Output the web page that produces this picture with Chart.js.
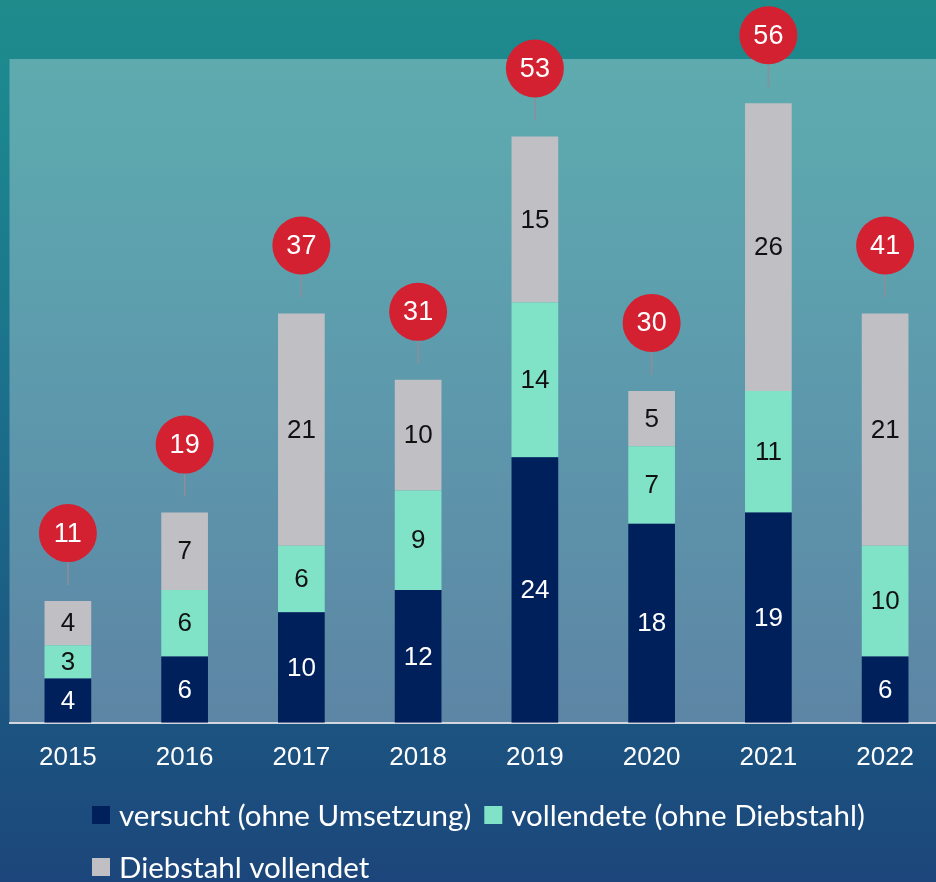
<!DOCTYPE html>
<html>
<head>
<meta charset="utf-8">
<script src="https://cdn.jsdelivr.net/npm/chart.js@4/dist/chart.umd.min.js"></script>
<style>
  html, body { margin: 0; padding: 0; background: #1c4a7c; }
  .chart-container { width: 936px; height: 882px; overflow: hidden; position: relative; }
  canvas { display: block; }
</style>
</head>
<body>
<div class="chart-container">
  <canvas id="chart" width="944" height="882"></canvas>
</div>
<script>
const years = ['2015', '2016', '2017', '2018', '2019', '2020', '2021', '2022'];
const versucht = [4, 6, 10, 12, 24, 18, 19, 6];
const vollendete = [3, 6, 6, 9, 14, 7, 11, 10];
const diebstahl = [4, 7, 21, 10, 15, 5, 26, 21];
const totals = [11, 19, 37, 31, 53, 30, 56, 41];

const seriesLabels = ['versucht (ohne Umsetzung)', 'vollendete (ohne Diebstahl)', 'Diebstahl vollendet'];
const seriesColors = ['#00205c', '#80e3c8', '#bfbfc4'];

// background gradient + lighter plot panel
const backgroundPlugin = {
  id: 'background',
  beforeDraw(chart) {
    const { ctx, width, height, chartArea } = chart;
    ctx.save();
    const g = ctx.createLinearGradient(0, 0, 0, height);
    g.addColorStop(0, '#1f8b8b');
    g.addColorStop(0.12, '#1c878f');
    g.addColorStop(0.5, '#1b6c8a');
    g.addColorStop(1, '#1c467b');
    ctx.fillStyle = g;
    ctx.fillRect(0, 0, width, height);
    ctx.fillStyle = 'rgba(255,255,255,0.29)';
    ctx.fillRect(chartArea.left, chartArea.top, width - chartArea.left, chartArea.bottom - chartArea.top);
    ctx.restore();
  }
};

// numbers inside segments, red total bubbles, legend
const labelsPlugin = {
  id: 'segmentLabels',
  afterDatasetsDraw(chart) {
    const { ctx } = chart;
    ctx.save();
    ctx.textAlign = 'center';
    ctx.textBaseline = 'middle';
    ctx.font = '26px "Liberation Sans", Arial, sans-serif';
    chart.data.datasets.forEach((ds, di) => {
      const meta = chart.getDatasetMeta(di);
      meta.data.forEach((bar, i) => {
        ctx.fillStyle = di === 0 ? '#ffffff' : '#111111';
        ctx.fillText(String(ds.data[i]), bar.x, (bar.y + bar.base) / 2 + 1);
      });
    });

    const topMeta = chart.getDatasetMeta(chart.data.datasets.length - 1);
    topMeta.data.forEach((bar, i) => {
      const barTop = bar.y;
      const cy = barTop - 68;
      const r = 29;
      ctx.strokeStyle = '#8e8e98';
      ctx.lineWidth = 1.5;
      ctx.beginPath();
      ctx.moveTo(bar.x, cy + r);
      ctx.lineTo(bar.x, barTop - 16);
      ctx.stroke();
      ctx.fillStyle = '#d42131';
      ctx.beginPath();
      ctx.arc(bar.x, cy, r, 0, Math.PI * 2);
      ctx.fill();
      ctx.fillStyle = '#ffffff';
      ctx.font = '27px "Liberation Sans", Arial, sans-serif';
      ctx.fillText(String(totals[i]), bar.x, cy + 1);
    });
    ctx.restore();
  },
  afterDraw(chart) {
    const { ctx } = chart;
    ctx.save();
    ctx.font = '29.5px Lato, "Open Sans", sans-serif';
    ctx.textBaseline = 'middle';
    ctx.textAlign = 'left';
    const startX = 92;
    const rows = [[0, 1], [2]];
    const rowY = [815, 867];
    rows.forEach((row, r) => {
      let x = startX;
      row.forEach(di => {
        const ds = chart.data.datasets[di];
        ctx.fillStyle = ds.backgroundColor;
        ctx.fillRect(x, rowY[r] - 9, 18, 18);
        x += 18 + 9;
        ctx.fillStyle = '#ffffff';
        ctx.fillText(ds.label, x, rowY[r] + 1);
        x += ctx.measureText(ds.label).width + 13;
      });
    });
    ctx.restore();
  }
};

const ctx = document.getElementById('chart').getContext('2d');
new Chart(ctx, {
  type: 'bar',
  data: {
    labels: years,
    datasets: [versucht, vollendete, diebstahl].map((d, i) => ({
      label: seriesLabels[i],
      data: d,
      backgroundColor: seriesColors[i],
      borderWidth: 0,
      barPercentage: 0.4,
      categoryPercentage: 1
    }))
  },
  options: {
    responsive: false,
    animation: false,
    layout: { padding: { left: 9.5, right: 0.5, top: 59, bottom: 90 } },
    plugins: {
      legend: { display: false },
      tooltip: { enabled: false }
    },
    scales: {
      x: {
        stacked: true,
        grid: { display: false, drawTicks: false },
        border: { color: '#d3d6dc', width: 2 },
        ticks: {
          color: '#ffffff',
          padding: 19,
          font: { family: '"Liberation Sans", Arial, sans-serif', size: 26 }
        }
      },
      y: {
        stacked: true,
        display: false,
        min: 0,
        max: 60
      }
    }
  },
  plugins: [backgroundPlugin, labelsPlugin]
});
</script>
</body>
</html>
